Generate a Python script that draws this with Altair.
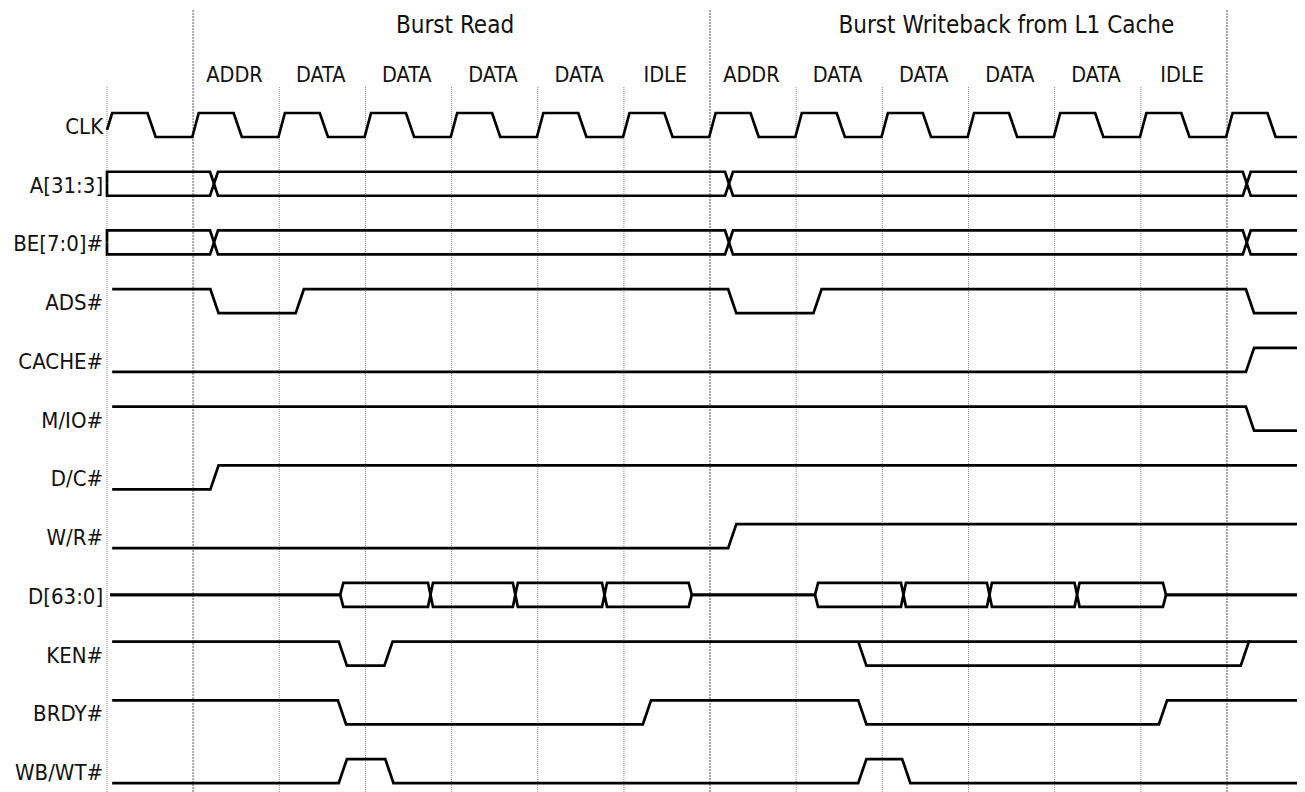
import altair as alt
import pandas as pd

# ---------------- data ----------------
SIGNALS = ["CLK", "A[31:3]", "BE[7:0]#", "ADS#", "CACHE#", "M/IO#",
           "D/C#", "W/R#", "D[63:0]", "KEN#", "BRDY#", "WB/WT#"]

PHASES = ["ADDR", "DATA", "DATA", "DATA", "DATA", "IDLE",
          "ADDR", "DATA", "DATA", "DATA", "DATA", "IDLE"]
PHASE_CYCLE = [1, 2, 3, 4, 5, 6, 7, 8, 9, 10, 11, 12]

TITLES = ["Burst Read", "Burst Writeback from L1 Cache"]
TITLE_T = [4.04, 10.44]

GRID_T = [0, 1, 2, 3, 4, 5, 6, 7, 8, 9, 10, 11, 12, 13]
GRID_TALL = [1, 7, 13]

CLK_RISE = [0, 1, 2, 3, 4, 5, 6, 7, 8, 9, 10, 11, 12, 13]

# digital signals: transition times (cycles) and levels (initial + after each edge)
ADS_EDGES, ADS_LEVELS = [1.20, 2.19, 7.21, 8.20, 13.22], [1, 0, 1, 0, 1, 0]
CACHE_EDGES, CACHE_LEVELS = [13.22], [0, 1]
MIO_EDGES, MIO_LEVELS = [13.22], [1, 0]
DC_EDGES, DC_LEVELS = [1.20], [0, 1]
WR_EDGES, WR_LEVELS = [7.21], [0, 1]
KEN_EDGES, KEN_LEVELS = [2.69, 3.22], [1, 0, 1]
KEN_ALT_EDGES, KEN_ALT_LEVELS = [8.72, 13.16], [1, 0, 1]   # second (low) branch
KEN_ALT_SPAN = [8.72, 13.27]
BRDY_EDGES, BRDY_LEVELS = [2.68, 6.22, 8.72, 12.21], [1, 0, 1, 0, 1]
WBWT_EDGES, WBWT_LEVELS = [2.69, 3.23, 8.72, 9.23], [0, 1, 0, 1, 0]

# buses: event times and kinds
A_EVENTS = [1.242, 7.22, 13.23]
A_KINDS = ["cross", "cross", "cross"]
D_EVENTS = [2.725, 3.755, 4.74, 5.775, 6.77, 8.236, 9.245, 10.243, 11.26, 12.275]
D_KINDS = ["open", "cross", "cross", "cross", "close",
           "open", "cross", "cross", "cross", "close"]

# ---------------- layout constants ----------------
X0_PAGE, PERIOD = 107.0, 86.15          # page x of cycle 0, pixels per cycle
ROW0_PAGE, ROW_STEP, ROW_H = 113.0, 58.73, 24.0
W, H = 1289, 784
HH = ROW_H / ROW_STEP
XMIN = (8 - X0_PAGE) / PERIOD
XMAX = (8 + W - X0_PAGE) / PERIOD
YMIN = (8 - ROW0_PAGE) / ROW_STEP
YMAX = (8 + H - ROW0_PAGE) / ROW_STEP
T_END = 14.2
EDGE = 0.095


def page_y(py):
    return (py - ROW0_PAGE) / ROW_STEP


rows = []


def add_path(name, row, pts):
    for i, (t, lv) in enumerate(pts):
        rows.append({"path": name, "idx": i, "t": t, "y": row + (1 - lv) * HH})


def digital(edges, levels, t0=0.06, t1=T_END):
    pts = [(t0, levels[0])]
    for e, a, b in zip(edges, levels[:-1], levels[1:]):
        pts += [(e, a), (e + EDGE, b)]
    pts.append((t1, levels[-1]))
    return pts


def bus(name, row, events, kinds, hw_x, hw_o, start_valid, t0):
    if start_valid:
        up, lo = [(t0, 0.5), (t0, 1)], [(t0, 0.5), (t0, 0)]
        valid = True
    else:
        up, lo = [(t0, 0.5)], [(t0, 0.5)]
        valid = False
    for c, k in zip(events, kinds):
        if k == "cross":
            up += [(c - hw_x, 1), (c, 0.5), (c + hw_x, 1)]
            lo += [(c - hw_x, 0), (c, 0.5), (c + hw_x, 0)]
        elif k == "open":
            up += [(c - hw_o, 0.5), (c + hw_o, 1)]
            lo += [(c - hw_o, 0.5), (c + hw_o, 0)]
            valid = True
        else:
            up += [(c - hw_o, 1), (c + hw_o, 0.5)]
            lo += [(c - hw_o, 0), (c + hw_o, 0.5)]
            valid = False
    up.append((T_END, 1 if valid else 0.5))
    lo.append((T_END, 0 if valid else 0.5))
    add_path(name + "_u", row, up)
    add_path(name + "_l", row, lo)


# CLK
clk = []
for k in CLK_RISE:
    if k == CLK_RISE[0]:
        clk += [(k, 0.3), (k + 0.06, 1)]
    else:
        clk += [(k - 0.01, 0), (k + 0.065, 1)]
    clk += [(k + 0.47, 1), (k + 0.565, 0)]
clk.append((T_END, 0))
add_path("CLK", 0, clk)

bus("A", 1, A_EVENTS, A_KINDS, 0.046, 0.02, True, 0.0)
bus("BE", 2, A_EVENTS, A_KINDS, 0.046, 0.02, True, 0.0)
add_path("ADS", 3, digital(ADS_EDGES, ADS_LEVELS))
add_path("CACHE", 4, digital(CACHE_EDGES, CACHE_LEVELS))
add_path("MIO", 5, digital(MIO_EDGES, MIO_LEVELS))
add_path("DC", 6, digital(DC_EDGES, DC_LEVELS))
add_path("WR", 7, digital(WR_EDGES, WR_LEVELS))
bus("D", 8, D_EVENTS, D_KINDS, 0.029, 0.018, False, 0.035)
add_path("KEN", 9, digital(KEN_EDGES, KEN_LEVELS))
add_path("KEN2", 9, digital(KEN_ALT_EDGES, KEN_ALT_LEVELS,
                            t0=KEN_ALT_SPAN[0], t1=KEN_ALT_SPAN[1])[1:-1]
         + [(KEN_ALT_SPAN[1], 1)])
add_path("BRDY", 10, digital(BRDY_EDGES, BRDY_LEVELS))
add_path("WBWT", 11, digital(WBWT_EDGES, WBWT_LEVELS))

wave = pd.DataFrame(rows)

grid = pd.DataFrame({
    "t": GRID_T,
    "top": [page_y(10) if g in GRID_TALL else page_y(87) for g in GRID_T],
    "tall": [g in GRID_TALL for g in GRID_T],
})
grid["bottom"] = YMAX + 1

labels = pd.DataFrame({"name": SIGNALS, "row": list(range(len(SIGNALS)))})
labels["t"] = -0.045
labels["y"] = labels["row"] + HH / 2

phases = pd.DataFrame({"name": PHASES, "t": [c + 0.48 for c in PHASE_CYCLE]})
phases["y"] = page_y(82)

titles = pd.DataFrame({"name": TITLES, "t": TITLE_T})
titles["y"] = page_y(33)

FONT = "DejaVu Sans Condensed, DejaVu Sans, sans-serif"

xs = alt.Scale(domain=[XMIN, XMAX], nice=False, zero=False)
ys = alt.Scale(domain=[YMIN, YMAX], nice=False, zero=False, reverse=True)
X = lambda f: alt.X(f, type="quantitative", scale=xs, axis=None)
Y = lambda f: alt.Y(f, type="quantitative", scale=ys, axis=None)

thin = alt.Chart(grid[~grid["tall"]]).mark_rule(
    color="#8c8c8c", strokeWidth=1, strokeDash=[1, 1], clip=True
).encode(x=X("t"), y=Y("top"), y2="bottom:Q")

tall = alt.Chart(grid[grid["tall"]]).mark_rule(
    color="#a6a6a6", strokeWidth=2, strokeDash=[2, 1], clip=True
).encode(x=X("t"), y=Y("top"), y2="bottom:Q")

lines = alt.Chart(wave).mark_line(
    color="black", strokeWidth=2.7, strokeJoin="miter", strokeCap="butt", clip=True
).encode(x=X("t"), y=Y("y"), detail="path:N", order="idx:Q")

lab = alt.Chart(labels).mark_text(
    align="right", baseline="alphabetic", dy=9, font=FONT, fontSize=22, color="#111"
).encode(x=X("t"), y=Y("y"), text="name:N")

ph = alt.Chart(phases).mark_text(
    align="center", baseline="alphabetic", font=FONT, fontSize=21.5, color="#111"
).encode(x=X("t"), y=Y("y"), text="name:N")

tt = alt.Chart(titles).mark_text(
    align="center", baseline="alphabetic", font=FONT, fontSize=24, color="#111"
).encode(x=X("t"), y=Y("y"), text="name:N")

chart = alt.layer(thin, tall, lines, lab, ph, tt).properties(
    width=W, height=H, padding=0,
    autosize=alt.AutoSizeParams(type="none"),
    background="white",
).configure_view(stroke=None)

chart.save("out.html", embed_options={"renderer": "svg", "actions": False})
